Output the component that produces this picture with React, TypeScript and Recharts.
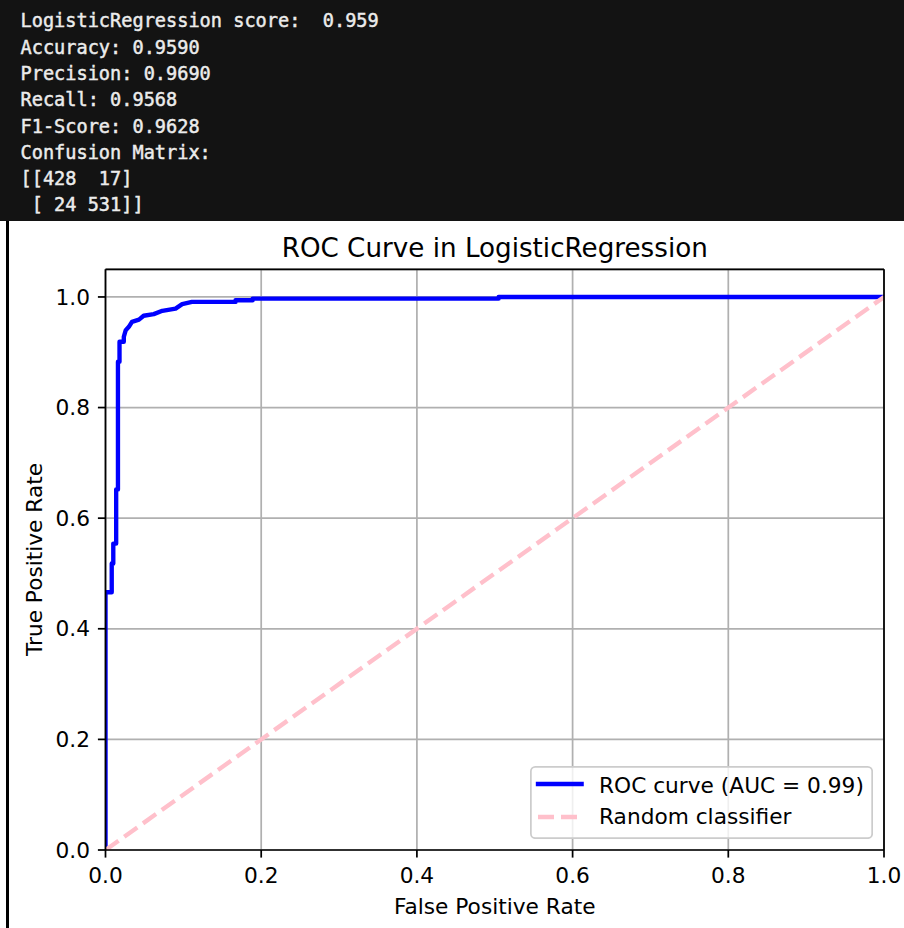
import React from 'react';
import { LineChart, Line, XAxis, YAxis, CartesianGrid, Legend, ReferenceLine } from 'recharts';

// console output printed above the plot
const consoleLines = [
  'LogisticRegression score:  0.959',
  'Accuracy: 0.9590',
  'Precision: 0.9690',
  'Recall: 0.9568',
  'F1-Score: 0.9628',
  'Confusion Matrix:',
  '[[428  17]',
  ' [ 24 531]]',
];

// ROC curve points
const rocFpr = [0, 0, 0.008, 0.008, 0.01, 0.01, 0.0137, 0.0137, 0.016, 0.016, 0.018, 0.018, 0.0235, 0.0235, 0.026, 0.03, 0.034, 0.043, 0.049, 0.062, 0.073, 0.09, 0.0985, 0.111, 0.167, 0.167, 0.189, 0.189, 0.505, 0.505, 1.0];
const rocTpr = [0, 0.466, 0.466, 0.518, 0.518, 0.554, 0.554, 0.652, 0.652, 0.883, 0.883, 0.919, 0.919, 0.928, 0.94, 0.946, 0.955, 0.959, 0.966, 0.969, 0.975, 0.979, 0.987, 0.991, 0.991, 0.994, 0.994, 0.997, 0.997, 1.0, 1.0];

const randomFpr = [0, 1];
const randomTpr = [0, 1];

const axisTicks = [0, 0.2, 0.4, 0.6, 0.8, 1.0];

const rocLabel = 'ROC curve (AUC = 0.99)';
const randomLabel = 'Random classifier';

const rocData = rocFpr.map((x, i) => ({ x, y: rocTpr[i] }));
const randomData = randomFpr.map((x, i) => ({ x, y: randomTpr[i] }));

const FONT = 'DejaVu Sans';
const FS = 21.7;
const LW = 1.74;

const tickStyle = { fill: '#000', fontSize: FS, fontFamily: FONT };
const fmt = (v: number) => v.toFixed(1);

function LegendBox() {
  return (
    <svg width={343} height={73} style={{ display: 'block' }}>
      <rect x={0.87} y={0.87} width={341.3} height={71.3} rx={4.4} fill="#fff" fillOpacity={0.8} stroke="#cccccc" strokeWidth={LW} />
      <line x1={8} x2={51.6} y1={18} y2={18} stroke="#0000ff" strokeWidth={4.36} strokeLinecap="square" />
      <line x1={8} x2={51.6} y1={51} y2={51} stroke="#ffc0cb" strokeWidth={4.36} strokeDasharray="16 7" />
      <text x={69} y={27.3} fontFamily={FONT} fontSize={FS} fill="#000">{rocLabel}</text>
      <text x={69} y={58.3} fontFamily={FONT} fontSize={FS} fill="#000">{randomLabel}</text>
    </svg>
  );
}

export default function App() {
  return (
    <div style={{ position: 'absolute', left: 0, top: 0, width: 904, height: 928, background: '#fff', overflow: 'hidden' }}>
      <svg width={904} height={221} style={{ position: 'absolute', left: 0, top: 0, display: 'block' }}>
        <rect x={0} y={0} width={904} height={221} fill="#131313" />
        {consoleLines.map((line, i) => (
          <text
            key={i}
            x={20.5}
            y={27.3 + i * 26.3}
            fill="#ececec"
            stroke="#ececec"
            strokeWidth={0.45}
            fontFamily="DejaVu Sans Mono"
            fontSize={18.6}
            style={{ whiteSpace: 'pre' }}
          >
            {line}
          </text>
        ))}
      </svg>
      <div style={{ position: 'absolute', left: 6, top: 221, width: 3, height: 707, background: '#000' }} />

      <div style={{ position: 'absolute', left: 0, top: 0 }}>
        <LineChart width={904} height={928} margin={{ top: 269.3, right: 20, bottom: 38, left: 45.5 }}>
          <CartesianGrid stroke="#b0b0b0" strokeWidth={LW} />
          <XAxis
            dataKey="x"
            type="number"
            domain={[0, 1]}
            ticks={axisTicks}
            allowDataOverflow
            interval={0}
            height={40}
            tickSize={7.6}
            tickMargin={10}
            tick={tickStyle}
            tickFormatter={fmt}
            axisLine={{ stroke: '#000', strokeWidth: LW }}
            tickLine={{ stroke: '#000', strokeWidth: LW }}
          />
          <YAxis
            type="number"
            domain={[0, 1.05]}
            ticks={axisTicks}
            allowDataOverflow
            interval={0}
            width={60}
            tickSize={7.6}
            tickMargin={7.9}
            tick={tickStyle}
            tickFormatter={fmt}
            axisLine={{ stroke: '#000', strokeWidth: LW }}
            tickLine={{ stroke: '#000', strokeWidth: LW }}
          />
          <Line
            data={rocData}
            dataKey="y"
            type="linear"
            stroke="#0000ff"
            strokeWidth={4.36}
            strokeLinejoin="round"
            dot={false}
            activeDot={false}
            isAnimationActive={false}
          />
          <Line
            data={randomData}
            dataKey="y"
            type="linear"
            stroke="#ffc0cb"
            strokeWidth={4.36}
            strokeDasharray="16 7"
            dot={false}
            activeDot={false}
            isAnimationActive={false}
          />
          <ReferenceLine y={1.05} stroke="#000" strokeWidth={LW} />
          <ReferenceLine x={1} stroke="#000" strokeWidth={LW} />
          <Legend
            layout="horizontal"
            verticalAlign="middle"
            align="center"
            width={343}
            height={73}
            wrapperStyle={{ left: 530, top: 766, width: 343, height: 73 }}
            content={() => <LegendBox />}
          />
        </LineChart>
      </div>

      <svg width={904} height={928} style={{ position: 'absolute', left: 0, top: 0, pointerEvents: 'none' }}>
        <text x={494.75} y={256.7} textAnchor="middle" fontFamily={FONT} fontSize={26.2} fill="#000">
          ROC Curve in LogisticRegression
        </text>
        <text x={494.75} y={914} textAnchor="middle" fontFamily={FONT} fontSize={FS} fill="#000">
          False Positive Rate
        </text>
        <text transform="translate(41.5, 559.5) rotate(-90)" textAnchor="middle" fontFamily={FONT} fontSize={FS} fill="#000">
          True Positive Rate
        </text>
      </svg>
    </div>
  );
}
